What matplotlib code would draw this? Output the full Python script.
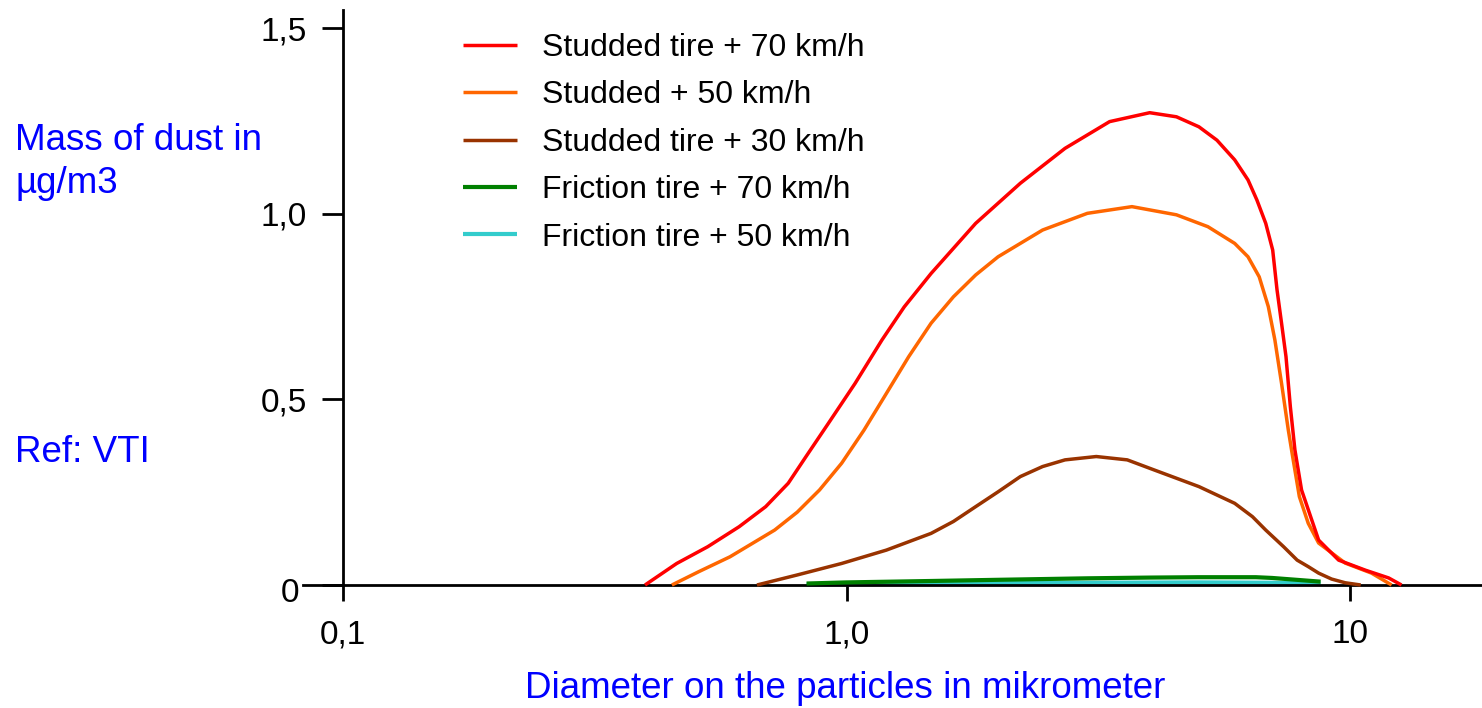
import matplotlib
matplotlib.use("Agg")
import matplotlib.pyplot as plt
from matplotlib.transforms import ScaledTranslation

plt.rcParams['font.family'] = ['Liberation Sans', 'DejaVu Sans']

# values (x = particle diameter in micrometer, y = mass)
red_x = [0.398, 0.460, 0.530, 0.612, 0.691, 0.766, 0.831, 0.920, 1.040, 1.176,
         1.302, 1.472, 1.805, 2.214, 2.716, 3.33, 4.00, 4.52, 5.01, 5.44,
         5.90, 6.27, 6.53, 6.80, 7.02, 7.16, 7.31, 7.46, 7.61, 7.77,
         8.01, 8.35, 8.66, 9.49, 10.72, 11.93, 12.65]
red_y = [0.0, 0.058, 0.103, 0.157, 0.211, 0.274, 0.346, 0.435, 0.543, 0.660,
         0.749, 0.839, 0.974, 1.082, 1.176, 1.248, 1.272, 1.261, 1.234, 1.198,
         1.145, 1.091, 1.037, 0.974, 0.902, 0.795, 0.705, 0.615, 0.480, 0.364,
         0.256, 0.184, 0.121, 0.067, 0.040, 0.019, 0.0]

orange_x = [0.450, 0.509, 0.587, 0.720, 0.798, 0.884, 0.978, 1.083, 1.200, 1.329,
            1.472, 1.630, 1.805, 2.000, 2.451, 3.008, 3.688, 4.52, 5.22, 5.90,
            6.27, 6.60, 6.88, 7.09, 7.31, 7.54, 7.69, 7.93, 8.26, 8.66,
            9.78, 11.03, 12.09]
orange_y = [0.0, 0.036, 0.076, 0.148, 0.196, 0.256, 0.328, 0.417, 0.516, 0.615,
            0.705, 0.776, 0.835, 0.884, 0.956, 1.001, 1.019, 0.997, 0.965, 0.920,
            0.884, 0.830, 0.750, 0.660, 0.543, 0.417, 0.346, 0.238, 0.166, 0.113,
            0.059, 0.032, 0.0]

brown_x = [0.664, 0.798, 0.978, 1.200, 1.472, 1.630, 1.805, 2.000, 2.214, 2.451,
           2.716, 3.133, 3.61, 4.08, 5.01, 5.90, 6.40, 6.80, 7.38, 7.85,
           8.27, 8.66, 9.19, 9.78, 10.5]
brown_y = [0.0, 0.027, 0.058, 0.094, 0.139, 0.171, 0.211, 0.251, 0.292, 0.319,
           0.337, 0.346, 0.337, 0.310, 0.265, 0.220, 0.184, 0.148, 0.103, 0.067,
           0.049, 0.032, 0.016, 0.006, 0.0]

green_x = [0.833, 1.0, 1.5, 2.0, 3.0, 4.0, 5.0, 6.0, 6.5, 7.0, 8.0, 8.74]
green_y = [0.004, 0.007, 0.011, 0.014, 0.018, 0.020, 0.021, 0.021, 0.021, 0.019, 0.013, 0.009]

cyan_x = [0.833, 1.0, 2.0, 3.0, 5.0, 7.0, 8.0, 8.74]
cyan_y = [0.001, 0.002, 0.005, 0.006, 0.007, 0.006, 0.005, 0.004]

labels = ['Studded tire + 70 km/h', 'Studded + 50 km/h', 'Studded tire + 30 km/h',
          'Friction tire + 70 km/h', 'Friction tire + 50 km/h']
colors = ['#ff0000', '#ff6600', '#993300', '#008000', '#33cccc']

xticks = [0.1, 1.0, 10]
xtick_labels = ['0,1', '1,0', '10']
yticks = [0, 0.5, 1.0, 1.5]
ytick_labels = ['0', '0,5', '1,0', '1,5']

fig = plt.figure(figsize=(14.82, 7.08), dpi=100)
ax = fig.add_axes([303 / 1482, 123 / 708, 1179 / 1482, 575 / 708])

series = [(red_x, red_y), (orange_x, orange_y), (brown_x, brown_y),
          (green_x, green_y), (cyan_x, cyan_y)]
widths = [2.5, 2.5, 2.5, 3.0, 3.0]
zorders = [5, 4, 3, 3, 2.5]
for (xs, ys), c, lab, lw, z in zip(series, colors, labels, widths, zorders):
    ax.plot(xs, ys, color=c, lw=lw, label=lab, zorder=z, solid_joinstyle='round',
            solid_capstyle='butt', clip_on=False)

ax.set_xscale('log')
ax.set_xlim(0.0833, 18.28)
ax.set_ylim(0, 1.5486)

ax.spines['top'].set_visible(False)
ax.spines['right'].set_visible(False)
ax.spines['left'].set_position(('data', 0.1))
ax.spines['left'].set_linewidth(2)
ax.spines['bottom'].set_linewidth(2)

ax.set_xticks(xticks)
ax.set_xticklabels(xtick_labels)
ax.xaxis.set_minor_locator(matplotlib.ticker.NullLocator())
ax.set_yticks(yticks)
ax.set_yticklabels(ytick_labels)
ax.tick_params(axis='x', direction='out', length=11.5, width=2, pad=13, labelsize=24)
ax.tick_params(axis='y', direction='out', length=15, width=2, pad=11, labelsize=24)

# the "0" sits a bit left and below, clear of the x axis line
zero_lab = ax.get_yticklabels()[0]
zero_lab.set_transform(zero_lab.get_transform() +
                       ScaledTranslation(-8 / 100, -5 / 100, fig.dpi_scale_trans))

ax.set_xlabel('Diameter on the particles in mikrometer', color='#0000ff', fontsize=26.5,
              labelpad=15)
ax.xaxis.label.set_x((845 - 303) / 1179)

fig.text(15 / 1482, 1 - 150 / 708, 'Mass of dust in', color='#0000ff', fontsize=26.5)
fig.text(15 / 1482, 1 - 193 / 708, 'µg/m3', color='#0000ff', fontsize=26.5)
fig.text(15 / 1482, 1 - 462 / 708, 'Ref: VTI', color='#0000ff', fontsize=26.5)

ax.legend(loc='upper left', bbox_to_anchor=(463 / 1482, 1 - 33 / 708),
          bbox_transform=fig.transFigure, frameon=False, fontsize=23,
          handlelength=1.69, handletextpad=0.78, labelspacing=0.545,
          borderaxespad=0, borderpad=0)

fig.savefig('out.png', dpi=100)
